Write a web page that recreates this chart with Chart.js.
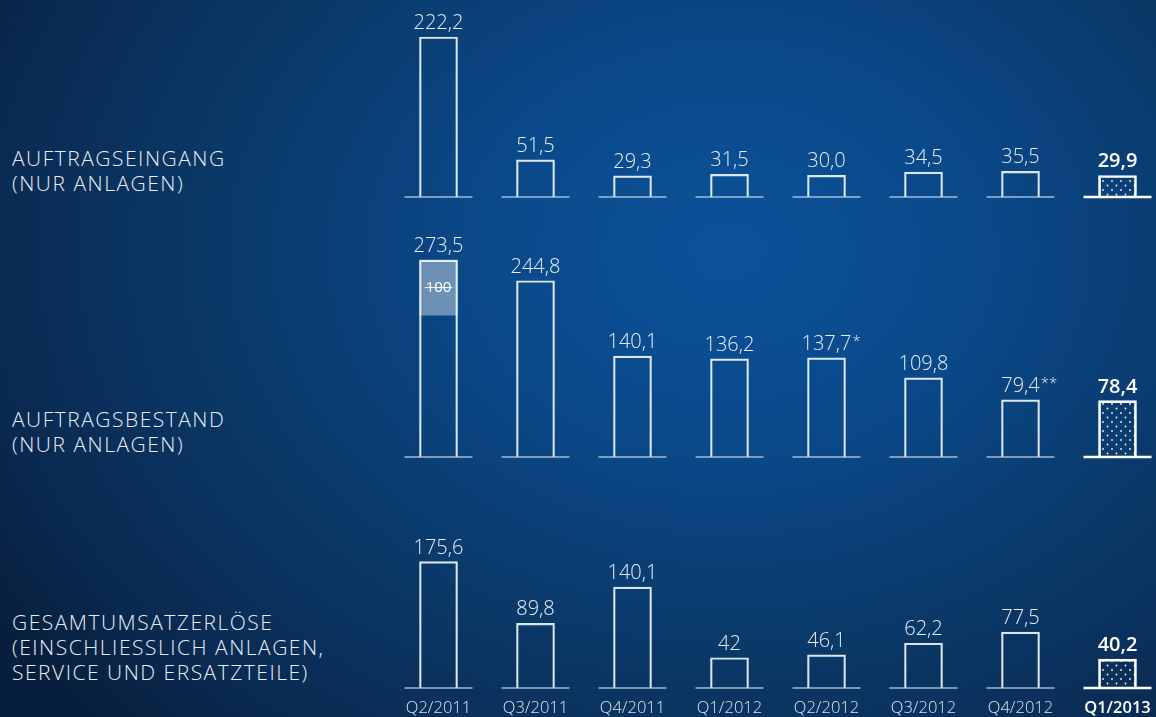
<!DOCTYPE html>
<html>
<head>
<meta charset="utf-8">
<script src="https://cdn.jsdelivr.net/npm/chart.js@4/dist/chart.umd.min.js"></script>
<style>
    html, body { margin: 0; padding: 0; width: 1156px; height: 717px; overflow: hidden; }
    body {
        position: relative;
        background: radial-gradient(ellipse 75% 95% at 63% 35%, #0b529a 0%, #0a4888 30%, #0a3867 60%, #0a2a52 85%, #071f3c 100%);
        font-family: 'Open Sans', sans-serif;
    }
    canvas { position: absolute; }
    .side {
        position: absolute; left: 12px;
        color: #e6edf5; font-size: 21px; font-weight: 300; line-height: 25px; letter-spacing: 1.5px;
    }
</style>
</head>
<body>
<div class="side" id="lab1">AUFTRAGSEINGANG<br>(NUR ANLAGEN)</div>
<div class="side" id="lab2">AUFTRAGSBESTAND<br>(NUR ANLAGEN)</div>
<div class="side" id="lab3">GESAMTUMSATZERLÖSE<br>(EINSCHLIESSLICH ANLAGEN,<br>SERVICE UND ERSATZTEILE)</div>
<canvas id="c1"></canvas>
<canvas id="c2"></canvas>
<canvas id="c3"></canvas>
<script>
// quarters
const quarters = ['Q2/2011', 'Q3/2011', 'Q4/2011', 'Q1/2012', 'Q2/2012', 'Q3/2012', 'Q4/2012', 'Q1/2013'];

// Auftragseingang (nur Anlagen)
const orderIntake = [222.2, 51.5, 29.3, 31.5, 30.0, 34.5, 35.5, 29.9];
const orderIntakeText = ['222,2', '51,5', '29,3', '31,5', '30,0', '34,5', '35,5', '29,9'];

// Auftragsbestand (nur Anlagen)
const backlog = [273.5, 244.8, 140.1, 136.2, 137.7, 109.8, 79.4, 78.4];
const backlogText = ['273,5', '244,8', '140,1', '136,2', '137,7', '109,8', '79,4', '78,4'];
const backlogNotes = ['', '', '', '', '*', '', '**', ''];
// shaded part of the first backlog bar ("100")
const backlogShade = [[197, 273.5], null, null, null, null, null, null, null];

// Gesamtumsatzerlöse
const revenue = [175.6, 89.8, 140.1, 42, 46.1, 62.2, 77.5, 40.2];
const revenueText = ['175,6', '89,8', '140,1', '42', '46,1', '62,2', '77,5', '40,2'];

const K = 0.72;          // px per unit, same for all panels
const PAD_TOP = 36;
const AXIS_H = 29;
const LAST = quarters.length - 1;

function dotPattern() {
    const c = document.createElement('canvas');
    c.width = 9; c.height = 9;
    const g = c.getContext('2d');
    g.fillStyle = 'rgba(255,255,255,0.95)';
    g.beginPath();
    g.arc(2, 2, 0.9, 0, Math.PI * 2);
    g.arc(6.5, 6.5, 0.9, 0, Math.PI * 2);
    g.fill();
    return g.createPattern(c, 'repeat');
}

const barDeco = {
    id: 'barDeco',
    afterDatasetsDraw(chart, args, opts) {
        const ctx = chart.ctx;
        const x = chart.scales.x;
        const y0 = chart.scales.y.getPixelForValue(0);
        ctx.save();
        // short baseline under every column
        quarters.forEach((q, i) => {
            const cx = x.getPixelForValue(i);
            ctx.beginPath();
            ctx.moveTo(cx - 34, y0);
            ctx.lineTo(cx + 34, y0);
            ctx.lineWidth = i === LAST ? 2.5 : 1.5;
            ctx.strokeStyle = i === LAST ? '#ffffff' : 'rgba(200,215,232,0.8)';
            ctx.stroke();
        });
        // value labels
        const meta = chart.getDatasetMeta(0);
        meta.data.forEach((bar, i) => {
            const last = i === LAST;
            ctx.font = (last ? '600 ' : '300 ') + '20px "Open Sans"';
            ctx.fillStyle = last ? '#ffffff' : '#e6edf5';
            ctx.textAlign = 'center';
            ctx.textBaseline = 'alphabetic';
            const txt = opts.text[i];
            ctx.fillText(txt, bar.x, bar.y - 8);
            const note = opts.notes ? opts.notes[i] : '';
            if (note) {
                const w = ctx.measureText(txt).width;
                ctx.font = '300 15px "Open Sans"';
                ctx.textAlign = 'left';
                ctx.fillText(note, bar.x + w / 2 + 1, bar.y - 12);
            }
        });
        // struck "100" in the shaded part
        if (opts.shade) {
            const el = chart.getDatasetMeta(1).data[0];
            const cy = (el.y + el.base) / 2;
            ctx.font = '400 15px "Open Sans"';
            ctx.fillStyle = '#ffffff';
            ctx.textAlign = 'center';
            ctx.textBaseline = 'middle';
            ctx.fillText('100', el.x, cy);
            const w = ctx.measureText('100').width;
            ctx.beginPath();
            ctx.moveTo(el.x - w / 2 - 1, cy);
            ctx.lineTo(el.x + w / 2 + 1, cy);
            ctx.lineWidth = 1;
            ctx.strokeStyle = '#ffffff';
            ctx.stroke();
        }
        ctx.restore();
    }
};

function makePanel(id, baseline, values, text, max, opts) {
    const canvas = document.getElementById(id);
    const plotH = Math.round(max * K);
    const bottom = opts.axis ? AXIS_H : 4;
    canvas.width = 776;
    canvas.height = PAD_TOP + plotH + bottom;
    canvas.style.left = '390px';
    canvas.style.top = (baseline - plotH - PAD_TOP) + 'px';

    const ctx = canvas.getContext('2d');
    const pattern = dotPattern();

    const datasets = [{
        data: values,
        backgroundColor: values.map((v, i) => i === LAST ? pattern : 'rgba(0,0,0,0)'),
        borderColor: values.map((v, i) => i === LAST ? '#ffffff' : 'rgba(240,245,250,0.92)'),
        borderWidth: values.map((v, i) => i === LAST ? 2 : 1.5),
        borderSkipped: 'bottom',
        barThickness: 38,
        grouped: false,
        order: 1
    }];
    if (opts.shade) {
        datasets.push({
            data: opts.shade,
            backgroundColor: 'rgba(255,255,255,0.4)',
            borderWidth: 0,
            barThickness: 38,
            grouped: false,
            order: 2
        });
    }

    const xAxis = {
        display: !!opts.axis,
        offset: true,
        grid: { display: false, drawTicks: false },
        border: { display: false },
        ticks: {
            padding: 10,
            color: (c) => c.index === LAST ? '#ffffff' : '#dbe4ee',
            font: (c) => ({ family: 'Open Sans', size: 16.5, weight: c.index === LAST ? 600 : 300 })
        }
    };
    if (opts.axis) xAxis.afterFit = (scale) => { scale.height = AXIS_H; };

    return new Chart(ctx, {
        type: 'bar',
        data: { labels: quarters, datasets },
        options: {
            responsive: false,
            animation: false,
            devicePixelRatio: 1,
            layout: { padding: { top: PAD_TOP, bottom: opts.axis ? 0 : bottom, left: 0, right: 0 } },
            plugins: {
                legend: { display: false },
                tooltip: { enabled: false },
                barDeco: { text, notes: opts.notes, shade: !!opts.shade }
            },
            scales: {
                x: xAxis,
                y: { display: false, min: 0, max: plotH / K }
            }
        },
        plugins: [barDeco]
    });
}

document.addEventListener('DOMContentLoaded', () => {
    makePanel('c1', 197, orderIntake, orderIntakeText, 225, {});
    makePanel('c2', 457, backlog, backlogText, 276, { notes: backlogNotes, shade: backlogShade });
    makePanel('c3', 688, revenue, revenueText, 178, { axis: true });

    // left captions sit on the panel baselines
    document.getElementById('lab1').style.top = '146px';
    document.getElementById('lab2').style.top = '407px';
    document.getElementById('lab3').style.top = '610px';
});
</script>
</body>
</html>
